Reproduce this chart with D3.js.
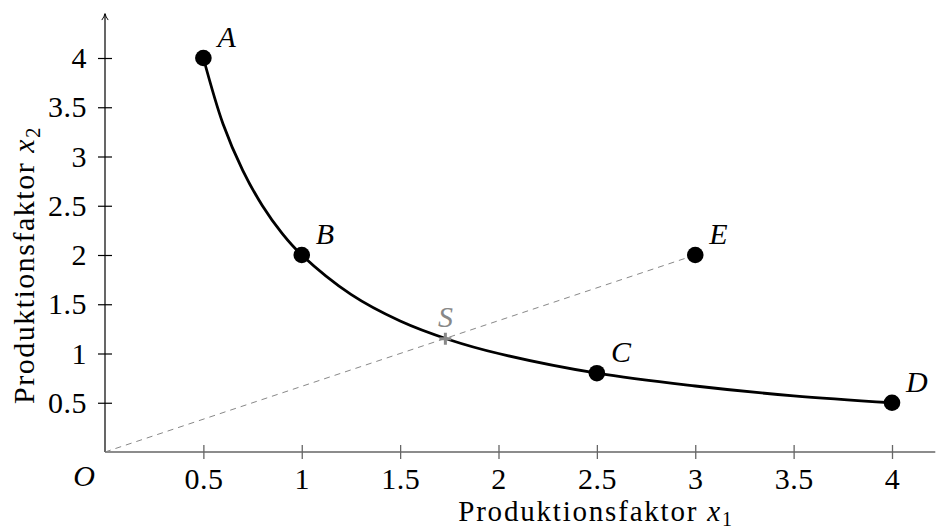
<!DOCTYPE html>
<html><head><meta charset="utf-8">
<script src="https://cdn.jsdelivr.net/npm/d3@7"></script>
<style>
html,body{margin:0;padding:0;background:#fff;}
svg{display:block;font-family:"Liberation Serif","DejaVu Serif",serif;}
</style></head>
<body>
<svg id="chart" width="936" height="532"></svg>
<script>
// ---- data ----
const xTicks = [0.5, 1, 1.5, 2, 2.5, 3, 3.5, 4];
const yTicks = [0.5, 1, 1.5, 2, 2.5, 3, 3.5, 4];
const xTickLabels = ["0.5", "1", "1.5", "2", "2.5", "3", "3.5", "4"];
const yTickLabels = ["0.5", "1", "1.5", "2", "2.5", "3", "3.5", "4"];
// isoquant curve points
const curveX = [0.5, 0.6, 0.7, 0.8, 0.9, 1, 1.25, 1.5, 1.75, 2, 2.5, 3, 3.5, 4];
const curveY = [4, 3.33, 2.86, 2.5, 2.22, 2, 1.6, 1.33, 1.14, 1, 0.8, 0.67, 0.57, 0.5];
const pointNames = ["A", "B", "C", "D", "E"];
const pointX = [0.5, 1, 2.5, 4, 3];
const pointY = [4, 2, 0.8, 0.5, 2];
const rayX = [0, 3];
const rayY = [0, 2];
const sName = "S";
const sX = 1.73, sY = 1.15;
const xLabel = "Produktionsfaktor ";
const yLabel = "Produktionsfaktor ";

const svg = d3.select("#chart");
const x = d3.scaleLinear().domain([0, 4]).range([105, 892]);
const y = d3.scaleLinear().domain([0, 4]).range([452, 58]);

const FS = 30;
const FONT = "'Liberation Serif','DejaVu Serif',serif";

// defs arrow
svg.append("defs").append("marker")
  .attr("id", "arr").attr("viewBox", "0 0 10 10").attr("refX", 9).attr("refY", 5)
  .attr("markerWidth", 8).attr("markerHeight", 8).attr("orient", "auto")
  .attr("markerUnits", "userSpaceOnUse")
  .append("path").attr("d", "M1,1 Q5,4 9,5 Q5,6 1,9").attr("fill", "none")
  .attr("stroke", "#000").attr("stroke-width", 1.2);

// x axis
const gx = svg.append("g").attr("transform", `translate(0,${y(0)})`)
  .call(d3.axisBottom(x).tickValues(xTicks).tickFormat((d, i) => xTickLabels[i])
    .tickSizeOuter(0).tickSizeInner(7).tickPadding(8.5));
gx.attr("font-family", FONT).attr("font-size", FS);
gx.select(".domain").remove();
gx.selectAll(".tick line").attr("y1", -7).attr("y2", 7).attr("stroke", "#666").attr("stroke-width", 1.3);
gx.selectAll(".tick text").attr("fill", "#000").attr("letter-spacing", 0.5);
gx.append("line").attr("x1", x(0)).attr("x2", x(4.22)).attr("y1", 0).attr("y2", 0)
  .attr("stroke", "#666").attr("stroke-width", 1.5);

// y axis
const gy = svg.append("g").attr("transform", `translate(${x(0)},0)`)
  .call(d3.axisLeft(y).tickValues(yTicks).tickFormat((d, i) => yTickLabels[i])
    .tickSizeOuter(0).tickSizeInner(7).tickPadding(11));
gy.attr("font-family", FONT).attr("font-size", FS);
gy.select(".domain").remove();
gy.selectAll(".tick line").attr("x1", -7).attr("x2", 7).attr("stroke", "#000").attr("stroke-width", 1.2);
gy.selectAll(".tick text").attr("fill", "#000").attr("letter-spacing", 0.5);
gy.append("line").attr("x1", 0).attr("x2", 0).attr("y1", y(0)).attr("y2", y(4.45))
  .attr("stroke", "#000").attr("stroke-width", 1.2).attr("marker-end", "url(#arr)");

// dashed ray
svg.append("line")
  .attr("x1", x(rayX[0])).attr("y1", y(rayY[0])).attr("x2", x(rayX[1])).attr("y2", y(rayY[1]))
  .attr("stroke", "#888").attr("stroke-width", 1).attr("stroke-dasharray", "6,5");

// curve
const curvePts = curveX.map((v, i) => [v, curveY[i]]);
svg.append("path").datum(curvePts)
  .attr("d", d3.line().x(d => x(d[0])).y(d => y(d[1])).curve(d3.curveCatmullRom.alpha(0.5)))
  .attr("fill", "none").attr("stroke", "#000").attr("stroke-width", 2.8);

// S cross
const sx = x(sX), sy = y(sY);
svg.append("path").attr("d", `M${sx-6},${sy}H${sx+6}M${sx},${sy-6}V${sy+6}`)
  .attr("stroke", "#888").attr("stroke-width", 3);
svg.append("text").attr("x", sx).attr("y", sy - 12).attr("text-anchor", "middle")
  .attr("font-size", FS).attr("font-style", "italic").attr("fill", "#888").text(sName);

// points
pointNames.forEach((n, i) => {
  const px = x(pointX[i]), py = y(pointY[i]);
  svg.append("circle").attr("cx", px).attr("cy", py).attr("r", 8.3).attr("fill", "#000");
  svg.append("text").attr("x", px + 14).attr("y", py - 11)
    .attr("font-size", FS).attr("font-style", "italic").text(n);
});

// O label
svg.append("text").attr("x", 84).attr("y", 486).attr("text-anchor", "middle")
  .attr("font-size", FS).attr("font-style", "italic").text("O");

// x label
const xl = svg.append("text").attr("x", 596).attr("y", 521).attr("text-anchor", "middle")
  .attr("font-size", 29).attr("letter-spacing", 1.8);
xl.append("tspan").text(xLabel);
xl.append("tspan").attr("font-style", "italic").text("x");
xl.append("tspan").attr("font-size", 20).attr("dy", 5).text("1");

// y label
const yl = svg.append("text").attr("transform", `translate(34,265) rotate(-90)`)
  .attr("text-anchor", "middle").attr("font-size", FS).attr("letter-spacing", 1.5);
yl.append("tspan").text(yLabel);
yl.append("tspan").attr("font-style", "italic").text("x");
yl.append("tspan").attr("font-size", 21).attr("dy", 6).text("2");
</script>
</body></html>
